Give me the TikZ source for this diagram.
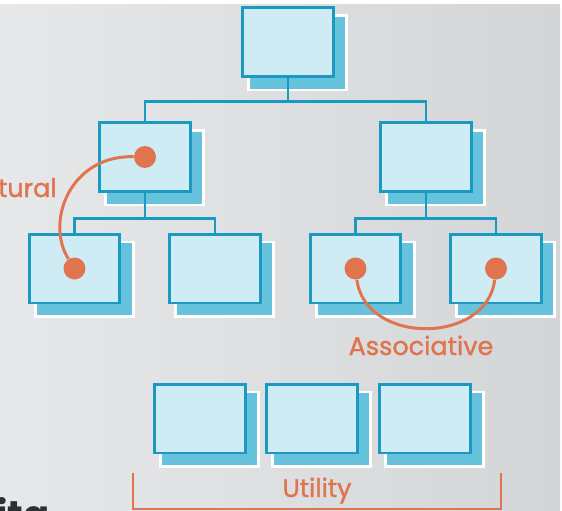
\documentclass[tikz,border=0pt]{standalone}
\usepackage{fontspec}
\setmainfont{Poppins}
\newfontfamily\relfont[FakeBold=1.3]{Poppins}
\usetikzlibrary{shadows}
\definecolor{boxfill}{HTML}{CFEBF3}
\definecolor{boxline}{HTML}{1A9AC0}
\definecolor{boxshade}{HTML}{66C2DD}
\definecolor{relorange}{HTML}{E0744F}
\definecolor{bgleft}{HTML}{E7E8E9}
\definecolor{bgright}{HTML}{D3D5D7}
\definecolor{titlegray}{HTML}{2E2F31}
\begin{document}
\begin{tikzpicture}[x = 0.02cm, y = -0.02cm,
		card/.style = {draw = boxline, fill = boxfill, line width = 1.7pt,
			minimum width = 1.82cm, minimum height = 1.38cm, inner sep = 0pt,
			drop shadow = {shadow xshift = 0.18cm, shadow yshift = -0.2cm, shadow scale = 1.08,
				fill = boxshade, draw = white, line width = 1.5pt, opacity = 1}},
		link/.style = {draw = boxline, line width = 1.5pt},
		rel/.style = {draw = relorange, line width = 1.7pt},
		dot/.style = {circle, fill = relorange, minimum size = 0.44cm, inner sep = 0pt},
		reltext/.style = {text = relorange, font = \relfont\fontsize{14.5}{17}\selectfont, inner sep = 0pt}]
	% background
	\useasboundingbox (0, 0) rectangle (562, 511);
	\fill[white] (0, 0) rectangle (562, 511);
	\shade[left color = bgleft, right color = bgright] (0, 4) rectangle (560, 511);
	% the tree
	\node[card] (root)  at (288, 42)    {};
	\node[card] (mid1)  at (145, 157)   {};
	\node[card] (mid2)  at (426, 157)   {};
	\node[card] (leaf1) at (74.5, 268.5) {};
	\node[card] (leaf2) at (215, 268.5) {};
	\node[card] (leaf3) at (355.5, 268.5) {};
	\node[card] (leaf4) at (496, 268.5) {};
	% the utility cards
	\node[card] (util1) at (200, 418.5) {};
	\node[card] (util2) at (312, 418.5) {};
	\node[card] (util3) at (425, 418.5) {};
	% branches
	\draw[link] (root.south) -- ++(0, 23.5) -| (mid1.north);
	\draw[link] (root.south) -- ++(0, 23.5) -| (mid2.north);
	\draw[link] (mid1.south) -- ++(0, 25.5) -| (leaf1.north);
	\draw[link] (mid1.south) -- ++(0, 25.5) -| (leaf2.north);
	\draw[link] (mid2.south) -- ++(0, 25.5) -| (leaf3.north);
	\draw[link] (mid2.south) -- ++(0, 25.5) -| (leaf4.north);
	% structural relation
	\node[dot] (s1) at (mid1.center)  {};
	\node[dot] (s2) at (leaf1.center) {};
	\draw[rel] (s1) .. controls (70, 155) and (45, 222) .. (s2);
	\node[reltext, anchor = base east] (structlabel) at (57, 197) {tural};
	% associative relation
	\node[dot] (a1) at (leaf3.center) {};
	\node[dot] (a2) at (leaf4.center) {};
	\draw[rel] (a1) .. controls (365, 345) and (487, 345) .. (a2);
	\node[reltext, anchor = base] (assoclabel) at (421, 355) {Associative};
	% utility bracket
	\coordinate (brtl) at (133, 473);
	\coordinate (brbl) at (133, 509);
	\coordinate (brbr) at (501, 509);
	\coordinate (brtr) at (501, 473);
	\draw[rel] (brtl) -- (brbl) -- (brbr) -- (brtr);
	\node[reltext, anchor = base] (utillabel) at (317, 497) {Utility};
	% title, cut off
	\node[anchor = base west, inner sep = 0pt, text = titlegray,
		font = \fontsize{22}{24}\selectfont\bfseries] (title) at (-4, 528) {ita};
\end{tikzpicture}
\end{document}
